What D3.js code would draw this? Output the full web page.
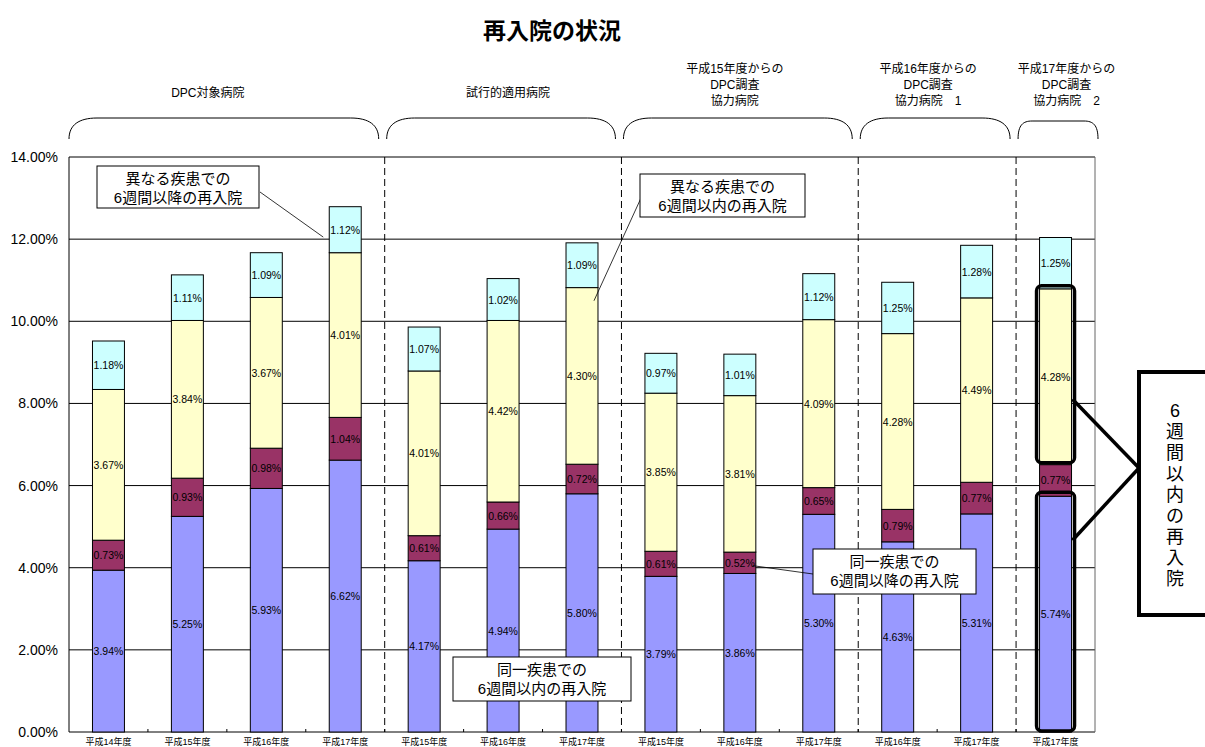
<!DOCTYPE html>
<html>
<head>
<meta charset="utf-8">
<script src="https://cdn.jsdelivr.net/npm/d3@7"></script>
<style>
  body { margin: 0; background: #fff; }
  svg text { font-family: "Liberation Sans", "Noto Sans CJK JP", sans-serif; fill: #000; }
</style>
</head>
<body>
<div id="chart"></div>
<script>
    // categories (fiscal years), one per bar
    var years = ["平成14年度", "平成15年度", "平成16年度", "平成17年度",
                 "平成15年度", "平成16年度", "平成17年度",
                 "平成15年度", "平成16年度", "平成17年度",
                 "平成16年度", "平成17年度",
                 "平成17年度"];

    // stacked series, bottom to top (%)
    var sameWithin6w  = [3.94, 5.25, 5.93, 6.62, 4.17, 4.94, 5.80, 3.79, 3.86, 5.30, 4.63, 5.31, 5.74];
    var sameAfter6w   = [0.73, 0.93, 0.98, 1.04, 0.61, 0.66, 0.72, 0.61, 0.52, 0.65, 0.79, 0.77, 0.77];
    var otherWithin6w = [3.67, 3.84, 3.67, 4.01, 4.01, 4.42, 4.30, 3.85, 3.81, 4.09, 4.28, 4.49, 4.28];
    var otherAfter6w  = [1.18, 1.11, 1.09, 1.12, 1.07, 1.02, 1.09, 0.97, 1.01, 1.12, 1.25, 1.28, 1.25];

    var seriesNames = ["同一疾患での6週間以内の再入院", "同一疾患での6週間以降の再入院",
                       "異なる疾患での6週間以内の再入院", "異なる疾患での6週間以降の再入院"];
    var seriesColors = ["#9999ff", "#993366", "#ffffcc", "#ccffff"];

    // hospital groups: label lines and number of bars
    var groupLabels = [["DPC対象病院"], ["試行的適用病院"],
                       ["平成15年度からの", "DPC調査", "協力病院"],
                       ["平成16年度からの", "DPC調査", "協力病院　1"],
                       ["平成17年度からの", "DPC調査", "協力病院　2"]];
    var groupSizes = [4, 3, 3, 2, 1];

    var yTicks = [0, 2, 4, 6, 8, 10, 12, 14];

    var W = 1205, H = 747;
    var pL = 69, pR = 1095, pT = 157, pB = 732;

    var svg = d3.select("#chart").append("svg").attr("width", W).attr("height", H);

    var x = d3.scaleBand().domain(d3.range(years.length)).range([pL, pR])
      .paddingInner(0.595).paddingOuter(0.2975);
    var y = d3.scaleLinear().domain([0, 14]).range([pB, pT]);
    var step = x.step();

    // title
    svg.append("text").attr("x", 552).attr("y", 39).attr("text-anchor", "middle")
      .style("font-size", "23px").style("font-weight", "bold").text("再入院の状況");

    // gridlines
    svg.selectAll(".grid").data(yTicks).enter().append("line")
      .attr("x1", pL).attr("x2", pR)
      .attr("y1", function (d) { return y(d); }).attr("y2", function (d) { return y(d); })
      .attr("stroke", "#000").attr("stroke-width", 1);

    // y axis labels
    svg.selectAll(".ylab").data(yTicks).enter().append("text")
      .attr("x", 58).attr("y", function (d) { return y(d) + 5; })
      .attr("text-anchor", "end").style("font-size", "14px")
      .text(function (d) { return d.toFixed(2) + "%"; });

    // plot frame
    svg.append("line").attr("x1", pL).attr("x2", pL).attr("y1", pT).attr("y2", pB)
      .attr("stroke", "#000");
    svg.append("line").attr("x1", pR).attr("x2", pR).attr("y1", pT).attr("y2", pB)
      .attr("stroke", "#666");

    // x ticks at band boundaries
    svg.selectAll(".xtick").data(d3.range(1, years.length)).enter().append("line")
      .attr("x1", function (d) { return pL + d * step; })
      .attr("x2", function (d) { return pL + d * step; })
      .attr("y1", pB).attr("y2", pB - 3).attr("stroke", "#000");

    // group separators and braces
    var bounds = [0];
    groupSizes.forEach(function (n, i) { bounds.push(bounds[i] + n); });
    bounds.slice(1, -1).forEach(function (b) {
      svg.append("line").attr("x1", pL + b * step).attr("x2", pL + b * step)
        .attr("y1", pT).attr("y2", pB)
        .attr("stroke", "#000").attr("stroke-dasharray", "7,4");
    });

    var labelDx = [-19, 5, -5, -9, 11];
    groupSizes.forEach(function (n, i) {
      var x0 = pL + bounds[i] * step + (i === 0 ? 0 : 2);
      var x1 = pL + bounds[i + 1] * step - (i === groupSizes.length - 1 ? -3 : 6);
      var r = n > 1 ? 28 : 14;
      var ty = n > 1 ? 118 : 121;
      var p = "M" + x0 + ",139 C" + x0 + ",125 " + (x0 + r * 0.35) + "," + ty + " " + (x0 + r) + "," + ty +
              " L" + (x1 - r) + "," + ty +
              " C" + (x1 - r * 0.35) + "," + ty + " " + x1 + ",125 " + x1 + ",139";
      svg.append("path").attr("d", p).attr("fill", "none").attr("stroke", "#000").attr("stroke-width", 1);

      var cx = pL + (bounds[i] + bounds[i + 1]) / 2 * step + labelDx[i];
      var lines = groupLabels[i];
      var y0 = lines.length === 1 ? 97 : 73;
      lines.forEach(function (t, j) {
        svg.append("text").attr("x", cx).attr("y", y0 + j * 16)
          .attr("text-anchor", "middle").style("font-size", "12px").text(t);
      });
    });

    // stacked bars
    var table = years.map(function (yr, i) {
      return { i: i, v: [sameWithin6w[i], sameAfter6w[i], otherWithin6w[i], otherAfter6w[i]] };
    });
    var segs = [];
    table.forEach(function (row) {
      var base = 0;
      row.v.forEach(function (v, s) {
        segs.push({ i: row.i, s: s, y0: base, y1: base + v, v: v });
        base += v;
      });
    });

    svg.selectAll(".seg").data(segs).enter().append("rect")
      .attr("x", function (d) { return x(d.i); })
      .attr("width", x.bandwidth())
      .attr("y", function (d) { return y(d.y1); })
      .attr("height", function (d) { return y(d.y0) - y(d.y1); })
      .attr("fill", function (d) { return seriesColors[d.s]; })
      .attr("stroke", "#000").attr("stroke-width", 1);

    svg.selectAll(".seglab").data(segs).enter().append("text")
      .attr("x", function (d) { return x(d.i) + x.bandwidth() / 2; })
      .attr("y", function (d) { return (y(d.y0) + y(d.y1)) / 2 + 4; })
      .attr("text-anchor", "middle").style("font-size", "10.5px")
      .text(function (d) { return d.v.toFixed(2) + "%"; });

    // x labels
    svg.selectAll(".xlab").data(years).enter().append("text")
      .attr("x", function (d, i) { return x(i) + x.bandwidth() / 2; })
      .attr("y", 745).attr("text-anchor", "middle").style("font-size", "9px")
      .text(function (d) { return d; });

    // callouts
    function callout(bx, by, bw, bh, l1, l2) {
      svg.append("rect").attr("x", bx).attr("y", by).attr("width", bw).attr("height", bh)
        .attr("fill", "#fff").attr("stroke", "#000").attr("stroke-width", 1);
      svg.append("text").attr("x", bx + bw / 2).attr("y", by + 18).attr("text-anchor", "middle")
        .style("font-size", "15px").text(l1);
      svg.append("text").attr("x", bx + bw / 2).attr("y", by + 37).attr("text-anchor", "middle")
        .style("font-size", "15px").text(l2);
    }
    function leader(x1, y1, x2, y2, w) {
      svg.append("line").attr("x1", x1).attr("y1", y1).attr("x2", x2).attr("y2", y2)
        .attr("stroke", "#000").attr("stroke-width", w || 0.8);
    }

    leader(260, 192, x(3) - 6, y(12.05));
    callout(97, 166, 162, 42, "異なる疾患での", "6週間以降の再入院");

    leader(641, 198, x(6) + x.bandwidth() - 4, y(10.5));
    callout(640, 174, 165, 43, "異なる疾患での", "6週間以内の再入院");

    callout(453, 657, 178, 44, "同一疾患での", "6週間以内の再入院");

    leader(813, 574, x(8) + x.bandwidth() - 3, y(4.05));
    callout(813, 549, 163, 45, "同一疾患での", "6週間以降の再入院");

    // highlight on last bar
    var li = years.length - 1;
    var b0 = sameWithin6w[li], b1 = b0 + sameAfter6w[li], b2 = b1 + otherWithin6w[li];
    var hx = x(li) - 3, hw = x.bandwidth() + 6;
    svg.append("rect").attr("x", hx).attr("y", y(b2) - 3).attr("width", hw)
      .attr("height", y(b1) - y(b2) + 1).attr("rx", 5)
      .attr("fill", "none").attr("stroke", "#000").attr("stroke-width", 3.5);
    svg.append("rect").attr("x", hx).attr("y", y(b0) - 4).attr("width", hw)
      .attr("height", y(0) - y(b0) + 3).attr("rx", 5)
      .attr("fill", "none").attr("stroke", "#000").attr("stroke-width", 3.5);

    leader(1139, 468, x(li) + x.bandwidth() + 1, y(8.1), 3.5);
    leader(1139, 468, x(li) + x.bandwidth() + 1, y(4.67), 3.5);
    svg.append("rect").attr("x", 1139).attr("y", 372).attr("width", 80).attr("height", 243)
      .attr("fill", "#fff").attr("stroke", "#000").attr("stroke-width", 4);
    "6週間以内の再入院".split("").forEach(function (c, k) {
      svg.append("text").attr("x", 1175).attr("y", 417 + k * 21).attr("text-anchor", "middle")
        .style("font-size", "18px").text(c);
    });
</script>
</body>
</html>
